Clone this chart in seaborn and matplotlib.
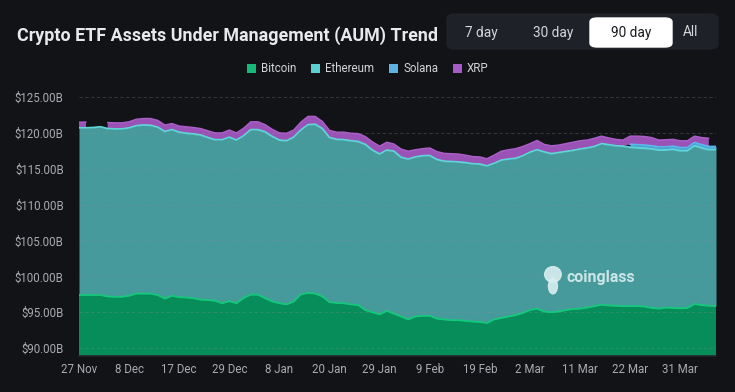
import matplotlib
matplotlib.use("Agg")
import matplotlib.pyplot as plt
import numpy as np
import pandas as pd
import seaborn as sns
from matplotlib.patches import FancyBboxPatch, Patch, Ellipse


# tick labels on the x axis, one every 7 points
tick_labels = ['27 Nov', '8 Dec', '17 Dec', '29 Dec', '8 Jan', '20 Jan', '29 Jan',
               '9 Feb', '19 Feb', '2 Mar', '11 Mar', '22 Mar', '31 Mar']

# AUM per asset, in $B
bitcoin = [97.4, 97.4, 97.4, 97.4, 97.2, 97.15, 97.15, 97.3, 97.6, 97.6,
           97.6, 97.4, 96.9, 97.3, 97.1, 97.05, 96.95, 96.75, 96.7, 96.6,
           96.25, 96.55, 96.25, 97.0, 97.45, 97.45, 96.95, 96.5, 96.25, 96.1,
           96.5, 97.5, 97.7, 97.6, 97.2, 96.4, 96.3, 96.25, 96.1, 96.0,
           95.3, 95.0, 94.7, 95.2, 94.8, 94.4, 94.0, 94.4, 94.5, 94.5,
           94.1, 94.0, 93.9, 93.9, 93.8, 93.7, 93.65, 93.5, 94.0, 94.2,
           94.4, 94.6, 94.9, 95.3, 95.5, 95.1, 95.0, 95.1, 95.3, 95.45,
           95.5, 95.65, 95.85, 96.05, 95.95, 95.9, 95.85, 95.85, 95.85, 95.8,
           95.6, 95.5, 95.65, 95.6, 95.55, 95.6, 96.15, 96.0, 95.9, 95.85]

ethereum = [23.3, 23.3, 23.35, 23.45, 23.4, 23.4, 23.4, 23.4, 23.4, 23.5,
            23.45, 23.4, 23.3, 23.15, 23.0, 22.9, 22.9, 22.95, 22.65, 22.45,
            22.8, 22.85, 22.75, 22.6, 23.0, 23.0, 23.2, 23.0, 22.75, 22.8,
            22.9, 22.9, 23.45, 23.6, 23.4, 22.95, 22.8, 22.8, 22.8, 22.8,
            23.1, 22.6, 22.35, 22.4, 22.65, 22.2, 22.35, 22.25, 22.3, 22.35,
            22.2, 22.05, 22.1, 22.05, 22.05, 22.0, 22.0, 21.9, 21.75, 22.0,
            21.95, 21.85, 21.9, 22.0, 22.15, 22.25, 22.1, 22.15, 22.1, 22.1,
            22.25, 22.25, 22.25, 22.45, 22.4, 22.3, 22.3, 22.15, 22.05, 22.05,
            22.15, 22.1, 21.95, 22.1, 21.95, 21.9, 22.05, 21.9, 21.75, 21.8]

# Solana only shows up in the last stretch
solana = [None] * 77 + [0.4, 0.45, 0.45, 0.45, 0.45, 0.45, 0.45,
                        0.45, 0.45, 0.45, 0.45, 0.45, 0.45]

xrp = [0.8, 0.8, None, None, 0.85, 0.85, 0.85, 0.85, 0.9, 0.9,
       0.95, 0.95, 0.9, 0.85, 0.85, 0.9, 0.9, 0.9, 0.95, 0.95,
       0.95, 1.0, 1.0, 1.05, 1.1, 1.1, 1.0, 1.0, 1.0, 1.05,
       1.0, 1.1, 1.15, 1.1, 1.0, 1.0, 1.0, 1.05, 1.05, 1.1,
       1.1, 1.15, 1.1, 1.1, 1.0, 1.15, 1.1, 1.0, 1.0, 1.05,
       1.1, 1.1, 1.1, 1.1, 1.05, 1.0, 1.0, 1.0, 1.15, 1.25,
       1.3, 1.35, 1.3, 1.2, 1.3, 1.05, 1.1, 1.05, 1.1, 1.15,
       1.15, 1.1, 1.15, 1.05, 0.95, 0.9, 0.85, 1.15, 1.2, 1.2,
       1.15, 0.95, 1.0, 0.95, 0.95, 0.95, 0.9, 1.0, 1.15, None]

assert len(bitcoin) == len(ethereum) == len(solana) == len(xrp) == 90

df = pd.DataFrame({'Bitcoin': bitcoin, 'Ethereum': ethereum,
                   'Solana': solana, 'XRP': xrp}, dtype=float)
df['idx'] = np.arange(len(df))

# stacked tops
df['btc_top'] = df['Bitcoin']
df['eth_top'] = df['btc_top'] + df['Ethereum']
df['sol_top'] = df['eth_top'] + df['Solana'].fillna(0)
df['xrp_top'] = df['sol_top'] + df['XRP']

bg = '#111317'
fill_colors = {'Bitcoin': '#078d59', 'Ethereum': '#479a9c', 'Solana': '#4ba6d8', 'XRP': '#9a52b6'}
line_colors = {'Bitcoin': '#14c97b', 'Ethereum': '#5fd5d7', 'Solana': '#5cb6ea', 'XRP': '#ab5fc9'}
legend_colors = {'Bitcoin': '#17b978', 'Ethereum': '#5ccfd1', 'Solana': '#5db3e3', 'XRP': '#a55bc8'}

sns.set_theme(style='dark')
plt.rcParams['font.family'] = ['Roboto', 'DejaVu Sans']
plt.rcParams['axes.facecolor'] = bg
plt.rcParams['figure.facecolor'] = bg

fig = plt.figure(figsize=(7.35, 3.92), dpi=100)
ax = fig.add_axes([79 / 735, 36 / 392, 637 / 735, 259 / 392])

x = df['idx']
ax.fill_between(x, 0, df['btc_top'], color=fill_colors['Bitcoin'], lw=0, zorder=1)
ax.fill_between(x, df['btc_top'], df['eth_top'], color=fill_colors['Ethereum'], lw=0, zorder=1)
sol_mask = df['Solana'].notna()
ax.fill_between(x[sol_mask], df['eth_top'][sol_mask], df['sol_top'][sol_mask],
                color=fill_colors['Solana'], lw=0, zorder=1)
ax.fill_between(x, df['sol_top'], df['xrp_top'], color=fill_colors['XRP'], lw=0, zorder=1)

# edge lines
sns.lineplot(data=df, x='idx', y='btc_top', color=line_colors['Bitcoin'], lw=1.3, ax=ax, zorder=3)
sns.lineplot(data=df, x='idx', y='eth_top', color=line_colors['Ethereum'], lw=1.3, ax=ax, zorder=3)
ax.plot(x[sol_mask], df['sol_top'][sol_mask], color=line_colors['Solana'], lw=1.3, zorder=3)
ax.plot(x, df['xrp_top'], color=line_colors['XRP'], lw=1.0, zorder=3)

ax.set_xlim(0, len(df) - 1)
ax.set_ylim(88.9, 125)
ax.set_xlabel('')
ax.set_ylabel('')

yticks = [90, 95, 100, 105, 110, 115, 120, 125]
ax.set_yticks(yticks)
ax.set_yticklabels(['$%.2fB' % v for v in yticks])
ax.set_xticks(np.arange(0, len(df), 7)[:len(tick_labels)])
ax.set_xticklabels(tick_labels)
ax.tick_params(axis='both', colors='#a9abb0', labelsize=8.3, length=0)
ax.tick_params(axis='y', pad=11)
ax.tick_params(axis='x', pad=5)

ax.grid(False)
for v in yticks:
    ax.axhline(v, color='#8a8d94', lw=0.6, ls=(0, (4, 3)), alpha=0.35, zorder=2)

for side in ['top', 'right', 'left']:
    ax.spines[side].set_visible(False)
ax.spines['bottom'].set_color('#24272d')
ax.spines['bottom'].set_linewidth(1.2)

# watermark
ax.text(0.765, 0.305, 'coinglass', transform=ax.transAxes, color='#d9eef0',
        fontsize=11.5, fontweight='bold', ha='left', va='center', alpha=0.9, zorder=4)
ax.add_patch(Ellipse((0.744, 0.315), 0.026, 0.06, transform=ax.transAxes,
                     color='#d9eef0', alpha=0.9, zorder=4))
ax.add_patch(Ellipse((0.744, 0.27), 0.014, 0.06, transform=ax.transAxes,
                     color='#d9eef0', alpha=0.9, zorder=4))

# title
fig.text(17 / 735, 1 - 36 / 392, 'Crypto ETF Assets Under Management (AUM) Trend',
         color='#e8e9eb', fontsize=12.9, fontweight='bold', ha='left', va='center')

# range buttons
fig.patches.append(FancyBboxPatch((447 / 735, 1 - 49 / 392), 271 / 735, 35 / 392,
                                  boxstyle='round,pad=0,rounding_size=0.012',
                                  transform=fig.transFigure, color='#1e2127', zorder=0))
fig.patches.append(FancyBboxPatch((590 / 735, 1 - 47 / 392), 82 / 735, 29 / 392,
                                  boxstyle='round,pad=0,rounding_size=0.01',
                                  transform=fig.transFigure, color='#ffffff', zorder=1))
for label, cx, col in [('7 day', 481, '#d6d7da'), ('30 day', 553, '#d6d7da'),
                       ('90 day', 631, '#17191d'), ('All', 691, '#d6d7da')]:
    fig.text(cx / 735, 1 - 32.5 / 392, label, color=col, fontsize=9.8,
             ha='center', va='center', zorder=2)

# legend
handles = [Patch(facecolor=legend_colors[k], edgecolor='none', label=k)
           for k in ['Bitcoin', 'Ethereum', 'Solana', 'XRP']]
fig.legend(handles=handles, loc='center', bbox_to_anchor=(368 / 735, 1 - 69 / 392),
           ncol=4, frameon=False, fontsize=8.3, labelcolor='#d4d5d8',
           handlelength=0.75, handleheight=0.75, handletextpad=0.45, columnspacing=1.3)

fig.savefig('out.png', dpi=100, facecolor=bg)
